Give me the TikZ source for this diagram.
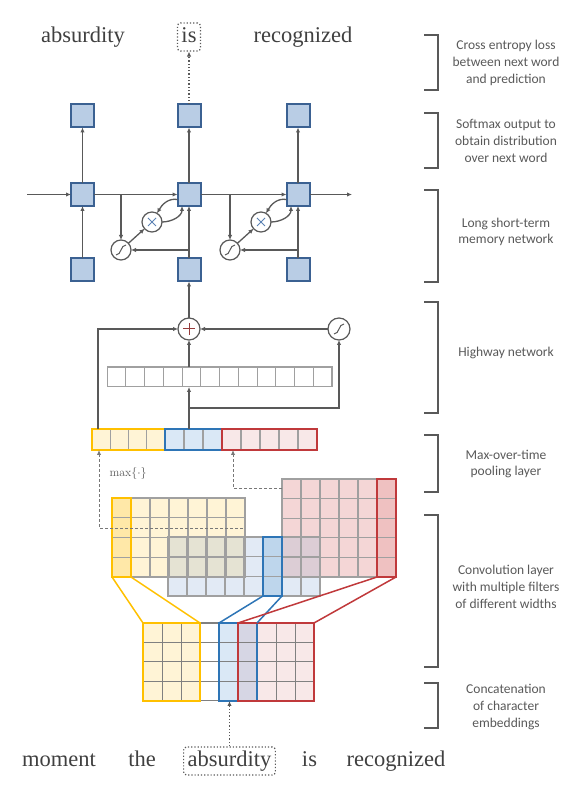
\documentclass[tikz,border=0pt]{standalone}
\usepackage{fontspec}
\newfontfamily\wordfont{Liberation Serif}
\newfontfamily\notefont{Carlito}
\usetikzlibrary{arrows.meta}

\definecolor{linegray}{RGB}{89,89,89}
\definecolor{dashgray}{RGB}{120,120,120}
\definecolor{cellgray}{RGB}{160,160,160}
\definecolor{embgray}{RGB}{128,128,128}
\definecolor{wordgray}{RGB}{64,64,64}
\definecolor{lstmfill}{RGB}{185,205,229}
\definecolor{lstmdraw}{RGB}{59,97,146}
\definecolor{multcol}{RGB}{91,130,180}
\definecolor{pluscol}{RGB}{150,60,60}
\definecolor{yelline}{RGB}{255,192,0}
\definecolor{yelfill}{RGB}{255,244,214}
\definecolor{yeldark}{RGB}{255,232,168}
\definecolor{bluline}{RGB}{46,117,182}
\definecolor{blufill}{RGB}{226,234,245}
\definecolor{blupale}{RGB}{218,232,246}
\definecolor{bludark}{RGB}{190,214,236}
\definecolor{redline}{RGB}{192,57,59}
\definecolor{redfill}{RGB}{244,214,214}
\definecolor{redpale}{RGB}{248,232,232}
\definecolor{reddark}{RGB}{239,193,193}
\definecolor{yelblu}{RGB}{229,227,211}
\definecolor{redblu}{RGB}{220,205,213}
\definecolor{embmix}{RGB}{214,214,228}

\begin{document}
\begin{tikzpicture}[x=1pt, y=1pt, >={Latex[length=5pt,width=4.5pt]},
    box/.style={inner sep=0pt, outer sep=0pt},
    cell/.style={box, draw=lstmdraw, fill=lstmfill, line width=2pt, minimum size=23pt},
    op/.style={box, circle, draw=linegray, fill=white, line width=1.2pt, minimum size=20pt},
    sigop/.style={op, path picture={\draw[linegray, line width=1pt]
        ([shift={(-5pt,-5pt)}]path picture bounding box.center) to[out=0,in=180]
        ([shift={(5pt,5pt)}]path picture bounding box.center);}},
    mulop/.style={op, path picture={\draw[multcol, line width=1pt]
        ([shift={(-4pt,-4pt)}]path picture bounding box.center) -- ([shift={(4pt,4pt)}]path picture bounding box.center)
        ([shift={(-4pt,4pt)}]path picture bounding box.center) -- ([shift={(4pt,-4pt)}]path picture bounding box.center);}},
    addop/.style={op, minimum size=22pt, path picture={\draw[pluscol, line width=1pt]
        ([xshift=-6pt]path picture bounding box.center) -- ([xshift=6pt]path picture bounding box.center)
        ([yshift=-6pt]path picture bounding box.center) -- ([yshift=6pt]path picture bounding box.center);}},
    conn/.style={draw=linegray, line width=1.3pt, ->},
    word/.style={font=\wordfont\fontsize{22.5}{27}\selectfont, text=wordgray, anchor=base,
        inner xsep=4pt, inner ysep=3pt, text height=17pt, text depth=5pt},
    pick/.style={word, draw=linegray, dotted, line width=1.2pt, rounded corners=3pt},
    note/.style={font=\notefont\fontsize{13.5}{16.8}\selectfont, text=linegray, align=center},
    bracket/.style={draw=linegray, line width=1.1pt},
    cellline/.style={draw=cellgray, line width=1.2pt},
    embline/.style={draw=embgray, line width=1pt}]

    \useasboundingbox (0,0) rectangle (586,796);

    % predicted words
    \node[word] (oAbs) at (83,753) {absurdity};
    \node[pick] (oIs) at (189,753) {is};
    \node[word] (oRec) at (303,753) {recognized};

    % lstm
    \node[cell] (t1) at (82.5,680) {};
    \node[cell] (t2) at (189,680) {};
    \node[cell] (t3) at (298,680) {};
    \node[cell] (m1) at (82.5,601.5) {};
    \node[cell] (m2) at (189,601.5) {};
    \node[cell] (m3) at (298,601.5) {};
    \node[cell] (b1) at (82.5,526) {};
    \node[cell] (b2) at (189,526) {};
    \node[cell] (b3) at (298,526) {};
    \node[sigop] (s2) at (121,546) {};
    \node[mulop] (x2) at (152,574) {};
    \node[sigop] (s3) at (230,546) {};
    \node[mulop] (x3) at (261,574) {};
    \coordinate (hin) at (27,601.5);
    \coordinate (hout) at (352,601.5);

    \draw[conn] (hin) -- (m1);
    \draw[conn] (m1) -- (m2);
    \draw[conn] (m2) -- (m3);
    \draw[conn] (m3) -- (hout);
    \draw[conn] (m1) -- (t1);
    \draw[conn] (m2) -- (t2);
    \draw[conn] (m3) -- (t3);
    \draw[conn] (b1) -- (m1);
    \draw[conn] (b2) -- (m2);
    \draw[conn] (b3) -- (m3);
    \draw[conn, dotted] (t2) -- (oIs);

    \draw[conn] (s2 |- m1) -- (s2);
    \draw[conn] (b2 |- s2) -- (s2);
    \draw[conn] (s2) -- (x2);
    \draw[conn] ([yshift=-5pt]m2.west) to[out=170,in=60] (x2.60);
    \draw[conn] (x2.east) to[out=0,in=-90] ([xshift=-7pt]m2.south);

    \draw[conn] (s3 |- m2) -- (s3);
    \draw[conn] (b3 |- s3) -- (s3);
    \draw[conn] (s3) -- (x3);
    \draw[conn] ([yshift=-5pt]m3.west) to[out=170,in=60] (x3.60);
    \draw[conn] (x3.east) to[out=0,in=-90] ([xshift=-7pt]m3.south);

    % highway
    \node[addop] (hp) at (189,467) {};
    \node[sigop, minimum size=22pt] (hs) at (339,467) {};
    \node[box, minimum width=225pt, minimum height=20pt] (hv) at (219.5,419) {};
    \draw[cellline, line width=1pt, xstep=18.75pt, ystep=20pt, shift={(107,409)}] (0,0) grid (225,20) (0,0) rectangle (225,20);

    % max-over-time pooling
    \node[box, fill=yelfill, minimum width=73pt, minimum height=21pt] (pY) at (128.5,356.5) {};
    \node[box, fill=blupale, minimum width=57pt, minimum height=21pt] (pB) at (193.5,356.5) {};
    \node[box, fill=redpale, minimum width=95pt, minimum height=21pt] (pR) at (269.5,356.5) {};
    \draw[cellline, xstep=18.25pt, ystep=21pt, shift={(92,346)}] (0,0) grid (73,21);
    \draw[cellline, xstep=19pt, ystep=21pt, shift={(165,346)}] (0,0) grid (57,21);
    \draw[cellline, xstep=19pt, ystep=21pt, shift={(222,346)}] (0,0) grid (95,21);
    \draw[yelline, line width=2.2pt] (pY.south west) rectangle (pY.north east);
    \draw[bluline, line width=2.2pt] (pB.south west) rectangle (pB.north east);
    \draw[redline, line width=2.2pt] (pR.south west) rectangle (pR.north east);

    \coordinate (hb) at (189,388);
    \draw[conn] ([xshift=6pt]pY.north west) |- (hp);
    \draw[conn] (pB.north -| hp) -- (hv.south -| hp);
    \draw[conn] (hv.north -| hp) -- (hp);
    \draw[conn] (hb) -| (hs);
    \draw[conn] (hs) -- (hp);
    \draw[conn] (hp) -- (b2);

    \node[anchor=west, text=linegray, font=\fontsize{12}{14}\selectfont] (mx) at (106,322) {$\max\{\cdot\}$};

    % convolution
    \fill[yelfill] (112,219) rectangle (245,298);
    \fill[redfill] (282,219) rectangle (396,317);
    \fill[blufill] (168,200) rectangle (320,259);
    \fill[yelblu] (168,219) rectangle (245,259);
    \fill[redblu] (282,219) rectangle (320,259);
    \node[box, fill=yeldark, minimum width=19pt, minimum height=79pt] (cY) at (121.5,258.5) {};
    \node[box, fill=bludark, minimum width=19pt, minimum height=59pt] (cB) at (272.5,229.5) {};
    \node[box, fill=reddark, minimum width=19pt, minimum height=98pt] (cR) at (386.5,268) {};
    \draw[cellline, xstep=19pt, ystep=19.75pt, shift={(112,219)}] (0,0) grid (133,79) (0,0) rectangle (133,79);
    \draw[cellline, xstep=19pt, ystep=19.6pt, shift={(282,219)}] (0,0) grid (114,98) (0,0) rectangle (114,98);
    \draw[cellline, xstep=19pt, ystep=19.667pt, shift={(168,200)}] (0,0) grid (152,59) (0,0) rectangle (152,59);
    \draw[yelline, line width=2pt] (cY.south west) rectangle (cY.north east);
    \draw[bluline, line width=2pt] (cB.south west) rectangle (cB.north east);
    \draw[redline, line width=2pt] (cR.south west) rectangle (cR.north east);

    \coordinate (dY) at (243,268);
    \coordinate (dR) at (282,308);
    \draw[conn, draw=dashgray, line width=0.9pt, dash pattern=on 3pt off 2pt] (dY) -| ([xshift=7pt]pY.south west);
    \draw[conn, draw=dashgray, line width=0.9pt, dash pattern=on 3pt off 2pt] (dR) -| ([xshift=11pt]pR.south west);

    % character embeddings
    \node[box, fill=yelfill, minimum width=57pt, minimum height=78pt] (eY) at (171.5,134) {};
    \node[box, fill=blupale, minimum width=38pt, minimum height=78pt] (eB) at (238,134) {};
    \node[box, fill=redpale, minimum width=76pt, minimum height=78pt] (eR) at (276,134) {};
    \fill[embmix] (eR.south west) rectangle (eB.north east);
    \node[box, minimum width=171pt, minimum height=78pt] (eM) at (228.5,134) {};
    \draw[embline, xstep=19pt, ystep=19.5pt, shift={(143,95)}] (0,0) grid (171,78) (0,0) rectangle (171,78);
    \draw[yelline, line width=2pt] (eY.south west) rectangle (eY.north east);
    \draw[bluline, line width=2pt] (eB.south west) rectangle (eB.north east);
    \draw[redline, line width=2pt] (eR.south west) rectangle (eR.north east);

    \draw[yelline, line width=1.5pt] (cY.south west) -- (eY.north west) (cY.south east) -- (eY.north east);
    \draw[bluline, line width=1.5pt] (cB.south west) -- (eB.north west) (cB.south east) -- (eB.north east);
    \draw[redline, line width=1.5pt] (cR.south west) -- (eR.north west) (cR.south east) -- (eR.north east);

    % input words
    \node[word] (iMom) at (59,29) {moment};
    \node[word] (iThe) at (142,29) {the};
    \node[pick] (iAbs) at (229.5,29) {absurdity};
    \node[word] (iIs) at (309.5,29) {is};
    \node[word] (iRec) at (396,29) {recognized};
    \draw[conn, dotted] (iAbs.north) -- (iAbs.north |- eM.south);

    % layer labels
    \draw[bracket] (424,761) -- (438,761) -- (438,706) -- (424,706);
    \node[note] (n1) at (506,733) {Cross entropy loss\\between next word\\and prediction};
    \draw[bracket] (424,683) -- (438,683) -- (438,628) -- (424,628);
    \node[note] (n2) at (506,655) {Softmax output to\\obtain distribution\\over next word};
    \draw[bracket] (424,606) -- (438,606) -- (438,514) -- (424,514);
    \node[note] (n3) at (506,564) {Long short-term\\memory network};
    \draw[bracket] (424,494) -- (438,494) -- (438,383) -- (424,383);
    \node[note] (n4) at (506,443) {Highway network};
    \draw[bracket] (424,361) -- (438,361) -- (438,304) -- (424,304);
    \node[note] (n5) at (506,332) {Max-over-time\\pooling layer};
    \draw[bracket] (424,281) -- (438,281) -- (438,129) -- (424,129);
    \node[note] (n6) at (506,209) {Convolution layer\\with multiple filters\\of different widths};
    \draw[bracket] (424,113) -- (438,113) -- (438,68) -- (424,68);
    \node[note] (n7) at (506,89) {Concatenation\\of character\\embeddings};
\end{tikzpicture}
\end{document}
